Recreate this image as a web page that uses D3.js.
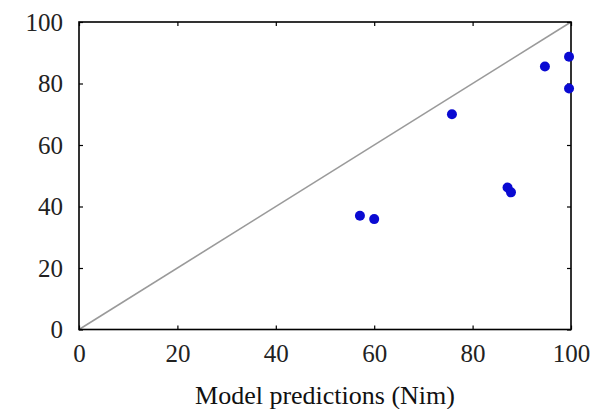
<!DOCTYPE html>
<html><head><meta charset="utf-8">
<script src="https://cdn.jsdelivr.net/npm/d3@7"></script>
<style>body{margin:0;background:#fff}svg{display:block}</style>
</head><body>
<svg id="c" width="595" height="409"></svg>
<script>
const xVals = [75.8, 94.7, 99.6, 99.6, 87.1, 87.8, 57.1, 60.0];
const yVals = [70.0, 85.5, 88.7, 78.4, 46.2, 44.6, 37.0, 35.9];
const tickVals = [0, 20, 40, 60, 80, 100];
const xLabel = "Model predictions (Nim)";

const svg = d3.select("#c");
const L = 79, R = 571, T = 22, B = 329.5;
const x = d3.scaleLinear().domain([0, 100]).range([L, R]);
const y = d3.scaleLinear().domain([0, 100]).range([B, T]);
const font = "'Liberation Serif','Times New Roman',serif";

// diagonal
svg.append("line")
  .attr("x1", x(0)).attr("y1", y(0)).attr("x2", x(100)).attr("y2", y(100))
  .attr("stroke", "#9a9a9a").attr("stroke-width", 1.6);

function styleAxis(g, labels) {
  g.select(".domain").remove();
  g.selectAll(".tick line").attr("stroke", "#000").attr("stroke-width", 1.2);
  g.selectAll(".tick text").attr("font-family", font).attr("font-size", 25).attr("fill", "#222");
  if (!labels) g.selectAll(".tick text").remove();
}
const tk = 4;
const gx = svg.append("g").attr("transform", `translate(0,${B})`)
  .call(d3.axisBottom(x).tickValues(tickVals).tickSizeInner(-tk).tickSizeOuter(0).tickPadding(12));
styleAxis(gx, true);
gx.selectAll(".tick text").attr("dy", "0.82em");
const gxt = svg.append("g").attr("transform", `translate(0,${T})`)
  .call(d3.axisTop(x).tickValues(tickVals).tickSizeInner(-tk).tickSizeOuter(0));
styleAxis(gxt, false);
const gy = svg.append("g").attr("transform", `translate(${L},0)`)
  .call(d3.axisLeft(y).tickValues(tickVals).tickSizeInner(-tk).tickSizeOuter(0).tickPadding(16));
styleAxis(gy, true);
const gyr = svg.append("g").attr("transform", `translate(${R},0)`)
  .call(d3.axisRight(y).tickValues(tickVals).tickSizeInner(-tk).tickSizeOuter(0));
styleAxis(gyr, false);

// frame
svg.append("rect").attr("x", L).attr("y", T).attr("width", R - L).attr("height", B - T)
  .attr("fill", "none").attr("stroke", "#000").attr("stroke-width", 1.6);

// points
svg.append("g").selectAll("circle").data(xVals.map((v, i) => [v, yVals[i]])).join("circle")
  .attr("cx", d => x(d[0])).attr("cy", d => y(d[1])).attr("r", 5)
  .attr("fill", "#0a0ad2");

svg.append("text").attr("x", 325).attr("y", 404).attr("text-anchor", "middle")
  .attr("font-family", font).attr("font-size", 26).attr("fill", "#111").text(xLabel);
</script>
</body></html>
